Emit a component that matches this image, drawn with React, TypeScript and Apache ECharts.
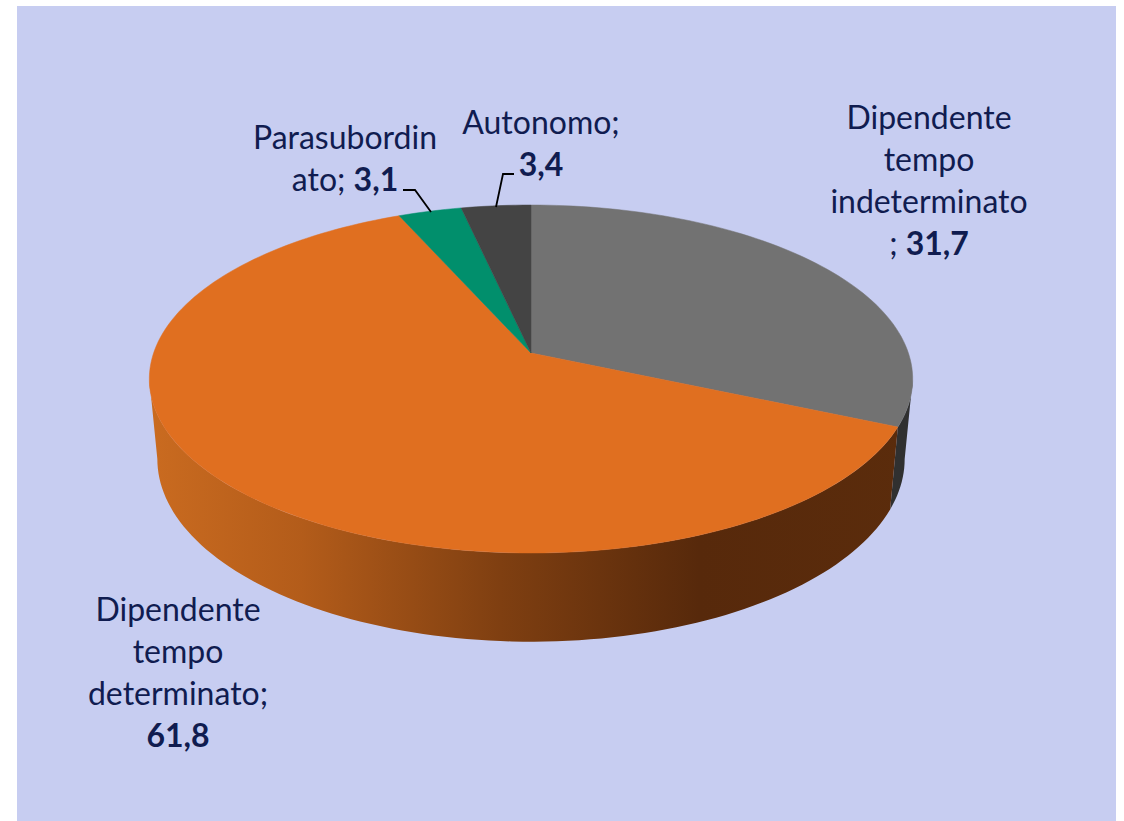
import React, { useEffect, useRef } from "react";
import * as echarts from "echarts";

const categories = ["Dipendente tempo indeterminato", "Dipendente tempo determinato", "Parasubordinato", "Autonomo"];
const values = [31.7, 61.8, 3.1, 3.4];
const labelLines = [
  ["Dipendente", "tempo", "indeterminato", "; "],
  ["Dipendente", "tempo", "determinato;", ""],
  ["Parasubordin", "ato; "],
  ["Autonomo;", ""],
];
const topColors = ["#727272", "#e06f20", "#018f6c", "#444444"];

const WIDTH = 1124;
const HEIGHT = 821;
const PANEL = { x: 17, y: 6, width: 1099, height: 815 };
const APEX = { x: 531, y: 353 };
const PROJ = { a: 170.1, b: 377.4, k: 0.1494, cy: 379 };
const LOWER = { scaleX: 0.979, scaleY: 1.05, dy: 80 };
const FONT_SIZE = 32;
const LINE_HEIGHT = 42.3;
const TEXT_COLOR = "#101c50";
const labelCenters = [
  { x: 929, y: 179.5 },
  { x: 178, y: 671.5 },
  { x: 345, y: 157.5 },
  { x: 541, y: 142.5 },
];
const leaderLines: (number[][] | null)[] = [
  null,
  null,
  [[403, 190], [415, 190], [431, 212]],
  [[514, 174], [503, 174], [496, 207]],
];
const wallFill = [
  "#303030",
  {
    type: "linear", x: 149, y: 0, x2: 913, y2: 0, global: true,
    colorStops: [
      { offset: 0, color: "#ca6b20" },
      { offset: 0.2, color: "#b35c1a" },
      { offset: 0.46, color: "#7f3f11" },
      { offset: 0.72, color: "#57290b" },
      { offset: 1, color: "#5b2c0c" },
    ],
  },
  "#000",
  "#000",
];

const total = values.reduce((s, v) => s + v, 0);
const startAngles = values.map((_, i) => (values.slice(0, i).reduce((s, v) => s + v, 0) / total) * 360);
const endAngles = startAngles.map((s, i) => s + (values[i] / total) * 360);
const fmt = (v: number) => String(v).replace(".", ",");

// perspective projection of the unit disc (angle clockwise from the top)
function project(deg: number, r = 1): [number, number] {
  const t = (deg * Math.PI) / 180;
  const X = r * Math.sin(t);
  const Y = -r * Math.cos(t);
  const w = 1 - PROJ.k * Y;
  return [APEX.x + (PROJ.b * X) / w, APEX.y + (PROJ.a * Y) / w];
}
function lower(p: [number, number]): [number, number] {
  return [APEX.x + (p[0] - APEX.x) * LOWER.scaleX, PROJ.cy + LOWER.dy + (p[1] - PROJ.cy) * LOWER.scaleY];
}
function arc(a0: number, a1: number): [number, number][] {
  const n = Math.max(2, Math.ceil(Math.abs(a1 - a0) / 1.5));
  const out: [number, number][] = [];
  for (let i = 0; i <= n; i++) out.push(project(a0 + ((a1 - a0) * i) / n));
  return out;
}
const VISIBLE_FROM = (Math.acos(-PROJ.k) * 180) / Math.PI;
const VISIBLE_TO = 360 - VISIBLE_FROM;

export default function App() {
  const ref = useRef<HTMLDivElement>(null);
  useEffect(() => {
    document.body.style.margin = "0";
    const chart = echarts.init(ref.current!, undefined, { renderer: "svg" });
    chart.setOption({
      animation: false,
      backgroundColor: "#ffffff",
      graphic: [
        { type: "rect", z: -10, silent: true, shape: PANEL, style: { fill: "#c7cdf1" } },
      ],
      series: [
        {
          type: "custom",
          coordinateSystem: "none",
          silent: true,
          z: 1,
          data: values,
          renderItem: (params: any) => {
            const i = params.dataIndex;
            const a0 = Math.max(startAngles[i], VISIBLE_FROM);
            const a1 = Math.min(endAngles[i], VISIBLE_TO);
            if (a1 <= a0) return null;
            const top = arc(a0, a1);
            const points = [...top, ...top.slice().reverse().map(lower)];
            return { type: "polygon", shape: { points }, style: { fill: wallFill[i] } };
          },
        },
        {
          type: "custom",
          coordinateSystem: "none",
          silent: true,
          z: 2,
          data: values,
          name: "top",
          renderItem: (params: any) => {
            const i = params.dataIndex;
            const points = [[APEX.x, APEX.y], ...arc(startAngles[i], endAngles[i])];
            return {
              type: "polygon",
              shape: { points },
              style: { fill: topColors[i], stroke: topColors[i], lineWidth: 0.5 },
            };
          },
        },
        {
          type: "custom",
          coordinateSystem: "none",
          silent: true,
          z: 3,
          data: values.map((v, i) => ({ value: v, name: categories[i] })),
          renderItem: (params: any) => {
            const i = params.dataIndex;
            const lines = labelLines[i];
            const text = lines
              .map((l, j) => {
                const last = j === lines.length - 1;
                const body = l ? `{n|${l}}` : "";
                return last ? `${body}{b|${fmt(values[i])}}` : body;
              })
              .join("\n");
            const children: any[] = [
              {
                type: "text",
                x: labelCenters[i].x,
                y: labelCenters[i].y,
                style: {
                  text,
                  align: "center",
                  verticalAlign: "middle",
                  rich: {
                    n: { fontFamily: "Lato", fontSize: FONT_SIZE, lineHeight: LINE_HEIGHT, fill: TEXT_COLOR, color: TEXT_COLOR },
                    b: { fontFamily: "Lato", fontWeight: "bold", fontSize: FONT_SIZE, lineHeight: LINE_HEIGHT, fill: TEXT_COLOR, color: TEXT_COLOR },
                  },
                },
              },
            ];
            const leader = leaderLines[i];
            if (leader) {
              children.push({
                type: "polyline",
                shape: { points: leader },
                style: { fill: "none", stroke: "#000000", lineWidth: 1.8 },
              });
            }
            return { type: "group", children };
          },
        },
      ],
    });
    return () => chart.dispose();
  }, []);
  return <div ref={ref} style={{ width: WIDTH, height: HEIGHT }} />;
}
